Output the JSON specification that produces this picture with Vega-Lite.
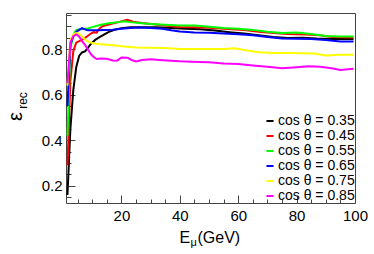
{
  "$schema": "https://vega.github.io/schema/vega-lite/v6.json",
  "width": 289,
  "height": 190,
  "autosize": {"type": "none"},
  "padding": {"left": 66, "top": 13, "right": 19, "bottom": 51},
  "background": "white",
  "config": {
    "font": "Liberation Sans",
    "view": {"stroke": "#444", "strokeWidth": 1}
  },
  "datasets": {
    "curves": [
      {"c":"cos θ = 0.35","E":1.5,"v":0.16},{"c":"cos θ = 0.35","E":2.5,"v":0.45},{"c":"cos θ = 0.35","E":3.5,"v":0.62},{"c":"cos θ = 0.35","E":4.5,"v":0.72},{"c":"cos θ = 0.35","E":5.5,"v":0.77},{"c":"cos θ = 0.35","E":6.5,"v":0.785},{"c":"cos θ = 0.35","E":7.5,"v":0.79},{"c":"cos θ = 0.35","E":8.5,"v":0.805},{"c":"cos θ = 0.35","E":9.5,"v":0.822},{"c":"cos θ = 0.35","E":11,"v":0.84},{"c":"cos θ = 0.35","E":12.5,"v":0.852},{"c":"cos θ = 0.35","E":14,"v":0.863},{"c":"cos θ = 0.35","E":16,"v":0.877},{"c":"cos θ = 0.35","E":18,"v":0.886},{"c":"cos θ = 0.35","E":20,"v":0.891},{"c":"cos θ = 0.35","E":23,"v":0.895},{"c":"cos θ = 0.35","E":27,"v":0.896},{"c":"cos θ = 0.35","E":32,"v":0.895},{"c":"cos θ = 0.35","E":37,"v":0.892},{"c":"cos θ = 0.35","E":42,"v":0.889},{"c":"cos θ = 0.35","E":47,"v":0.887},{"c":"cos θ = 0.35","E":52,"v":0.881},{"c":"cos θ = 0.35","E":57,"v":0.874},{"c":"cos θ = 0.35","E":62,"v":0.868},{"c":"cos θ = 0.35","E":67,"v":0.86},{"c":"cos θ = 0.35","E":72,"v":0.853},{"c":"cos θ = 0.35","E":77,"v":0.848},{"c":"cos θ = 0.35","E":82,"v":0.85},{"c":"cos θ = 0.35","E":87,"v":0.846},{"c":"cos θ = 0.35","E":92,"v":0.844},{"c":"cos θ = 0.35","E":99.5,"v":0.844},
      {"c":"cos θ = 0.45","E":1.5,"v":0.29},{"c":"cos θ = 0.45","E":2.5,"v":0.66},{"c":"cos θ = 0.45","E":3.5,"v":0.79},{"c":"cos θ = 0.45","E":4.5,"v":0.828},{"c":"cos θ = 0.45","E":5.5,"v":0.835},{"c":"cos θ = 0.45","E":6.5,"v":0.84},{"c":"cos θ = 0.45","E":8,"v":0.853},{"c":"cos θ = 0.45","E":9.5,"v":0.868},{"c":"cos θ = 0.45","E":10.5,"v":0.874},{"c":"cos θ = 0.45","E":11.5,"v":0.872},{"c":"cos θ = 0.45","E":12.5,"v":0.89},{"c":"cos θ = 0.45","E":13.5,"v":0.9},{"c":"cos θ = 0.45","E":15,"v":0.905},{"c":"cos θ = 0.45","E":17,"v":0.912},{"c":"cos θ = 0.45","E":19,"v":0.918},{"c":"cos θ = 0.45","E":21,"v":0.925},{"c":"cos θ = 0.45","E":22,"v":0.928},{"c":"cos θ = 0.45","E":24,"v":0.92},{"c":"cos θ = 0.45","E":27,"v":0.914},{"c":"cos θ = 0.45","E":31,"v":0.909},{"c":"cos θ = 0.45","E":35,"v":0.903},{"c":"cos θ = 0.45","E":40,"v":0.897},{"c":"cos θ = 0.45","E":45,"v":0.896},{"c":"cos θ = 0.45","E":50,"v":0.893},{"c":"cos θ = 0.45","E":55,"v":0.889},{"c":"cos θ = 0.45","E":62,"v":0.883},{"c":"cos θ = 0.45","E":67,"v":0.876},{"c":"cos θ = 0.45","E":72,"v":0.87},{"c":"cos θ = 0.45","E":77,"v":0.866},{"c":"cos θ = 0.45","E":83,"v":0.864},{"c":"cos θ = 0.45","E":88,"v":0.86},{"c":"cos θ = 0.45","E":92,"v":0.853},{"c":"cos θ = 0.45","E":99.5,"v":0.851},
      {"c":"cos θ = 0.55","E":1.5,"v":0.42},{"c":"cos θ = 0.55","E":2.5,"v":0.8},{"c":"cos θ = 0.55","E":3.5,"v":0.862},{"c":"cos θ = 0.55","E":4.5,"v":0.883},{"c":"cos θ = 0.55","E":5.5,"v":0.886},{"c":"cos θ = 0.55","E":7,"v":0.888},{"c":"cos θ = 0.55","E":8.5,"v":0.89},{"c":"cos θ = 0.55","E":10,"v":0.896},{"c":"cos θ = 0.55","E":12,"v":0.903},{"c":"cos θ = 0.55","E":13.5,"v":0.908},{"c":"cos θ = 0.55","E":15,"v":0.912},{"c":"cos θ = 0.55","E":17,"v":0.915},{"c":"cos θ = 0.55","E":19,"v":0.918},{"c":"cos θ = 0.55","E":21,"v":0.922},{"c":"cos θ = 0.55","E":23,"v":0.918},{"c":"cos θ = 0.55","E":26,"v":0.914},{"c":"cos θ = 0.55","E":30,"v":0.91},{"c":"cos θ = 0.55","E":35,"v":0.906},{"c":"cos θ = 0.55","E":40,"v":0.903},{"c":"cos θ = 0.55","E":45,"v":0.903},{"c":"cos θ = 0.55","E":50,"v":0.898},{"c":"cos θ = 0.55","E":55,"v":0.892},{"c":"cos θ = 0.55","E":60,"v":0.889},{"c":"cos θ = 0.55","E":65,"v":0.884},{"c":"cos θ = 0.55","E":70,"v":0.876},{"c":"cos θ = 0.55","E":75,"v":0.87},{"c":"cos θ = 0.55","E":80,"v":0.873},{"c":"cos θ = 0.55","E":85,"v":0.866},{"c":"cos θ = 0.55","E":90,"v":0.857},{"c":"cos θ = 0.55","E":95,"v":0.855},{"c":"cos θ = 0.55","E":99.5,"v":0.855},
      {"c":"cos θ = 0.65","E":1.5,"v":0.55},{"c":"cos θ = 0.65","E":2.5,"v":0.82},{"c":"cos θ = 0.65","E":3.5,"v":0.855},{"c":"cos θ = 0.65","E":4.5,"v":0.875},{"c":"cos θ = 0.65","E":5.5,"v":0.884},{"c":"cos θ = 0.65","E":6.5,"v":0.892},{"c":"cos θ = 0.65","E":7.5,"v":0.886},{"c":"cos θ = 0.65","E":8.5,"v":0.882},{"c":"cos θ = 0.65","E":10,"v":0.882},{"c":"cos θ = 0.65","E":12,"v":0.882},{"c":"cos θ = 0.65","E":14,"v":0.883},{"c":"cos θ = 0.65","E":17,"v":0.885},{"c":"cos θ = 0.65","E":20,"v":0.889},{"c":"cos θ = 0.65","E":23,"v":0.892},{"c":"cos θ = 0.65","E":26,"v":0.894},{"c":"cos θ = 0.65","E":30,"v":0.892},{"c":"cos θ = 0.65","E":34,"v":0.889},{"c":"cos θ = 0.65","E":37,"v":0.882},{"c":"cos θ = 0.65","E":40,"v":0.877},{"c":"cos θ = 0.65","E":45,"v":0.872},{"c":"cos θ = 0.65","E":50,"v":0.871},{"c":"cos θ = 0.65","E":55,"v":0.868},{"c":"cos θ = 0.65","E":60,"v":0.865},{"c":"cos θ = 0.65","E":65,"v":0.86},{"c":"cos θ = 0.65","E":70,"v":0.853},{"c":"cos θ = 0.65","E":75,"v":0.846},{"c":"cos θ = 0.65","E":80,"v":0.845},{"c":"cos θ = 0.65","E":85,"v":0.844},{"c":"cos θ = 0.65","E":90,"v":0.84},{"c":"cos θ = 0.65","E":95,"v":0.833},{"c":"cos θ = 0.65","E":99.5,"v":0.833},
      {"c":"cos θ = 0.75","E":1.5,"v":0.64},{"c":"cos θ = 0.75","E":2.5,"v":0.84},{"c":"cos θ = 0.75","E":3.5,"v":0.865},{"c":"cos θ = 0.75","E":4.5,"v":0.87},{"c":"cos θ = 0.75","E":5.5,"v":0.867},{"c":"cos θ = 0.75","E":6.5,"v":0.855},{"c":"cos θ = 0.75","E":7.5,"v":0.842},{"c":"cos θ = 0.75","E":8.5,"v":0.833},{"c":"cos θ = 0.75","E":10,"v":0.826},{"c":"cos θ = 0.75","E":12,"v":0.822},{"c":"cos θ = 0.75","E":15,"v":0.819},{"c":"cos θ = 0.75","E":18,"v":0.816},{"c":"cos θ = 0.75","E":21,"v":0.811},{"c":"cos θ = 0.75","E":25,"v":0.807},{"c":"cos θ = 0.75","E":30,"v":0.806},{"c":"cos θ = 0.75","E":35,"v":0.805},{"c":"cos θ = 0.75","E":40,"v":0.8},{"c":"cos θ = 0.75","E":45,"v":0.8},{"c":"cos θ = 0.75","E":50,"v":0.8},{"c":"cos θ = 0.75","E":55,"v":0.8},{"c":"cos θ = 0.75","E":59,"v":0.803},{"c":"cos θ = 0.75","E":63,"v":0.794},{"c":"cos θ = 0.75","E":67,"v":0.786},{"c":"cos θ = 0.75","E":72,"v":0.783},{"c":"cos θ = 0.75","E":77,"v":0.783},{"c":"cos θ = 0.75","E":82,"v":0.782},{"c":"cos θ = 0.75","E":86,"v":0.78},{"c":"cos θ = 0.75","E":90,"v":0.772},{"c":"cos θ = 0.75","E":95,"v":0.775},{"c":"cos θ = 0.75","E":99.5,"v":0.775},
      {"c":"cos θ = 0.85","E":1.5,"v":0.65},{"c":"cos θ = 0.85","E":2.5,"v":0.83},{"c":"cos θ = 0.85","E":3.5,"v":0.856},{"c":"cos θ = 0.85","E":4.5,"v":0.864},{"c":"cos θ = 0.85","E":5.5,"v":0.855},{"c":"cos θ = 0.85","E":6.5,"v":0.835},{"c":"cos θ = 0.85","E":7.5,"v":0.818},{"c":"cos θ = 0.85","E":8.5,"v":0.798},{"c":"cos θ = 0.85","E":9.5,"v":0.778},{"c":"cos θ = 0.85","E":10.5,"v":0.765},{"c":"cos θ = 0.85","E":11.5,"v":0.756},{"c":"cos θ = 0.85","E":13,"v":0.759},{"c":"cos θ = 0.85","E":15,"v":0.757},{"c":"cos θ = 0.85","E":17,"v":0.75},{"c":"cos θ = 0.85","E":18.5,"v":0.749},{"c":"cos θ = 0.85","E":20,"v":0.763},{"c":"cos θ = 0.85","E":22,"v":0.762},{"c":"cos θ = 0.85","E":23.5,"v":0.752},{"c":"cos θ = 0.85","E":25,"v":0.746},{"c":"cos θ = 0.85","E":27,"v":0.752},{"c":"cos θ = 0.85","E":30,"v":0.755},{"c":"cos θ = 0.85","E":33,"v":0.752},{"c":"cos θ = 0.85","E":37,"v":0.749},{"c":"cos θ = 0.85","E":40,"v":0.746},{"c":"cos θ = 0.85","E":44,"v":0.744},{"c":"cos θ = 0.85","E":50,"v":0.742},{"c":"cos θ = 0.85","E":55,"v":0.737},{"c":"cos θ = 0.85","E":60,"v":0.734},{"c":"cos θ = 0.85","E":65,"v":0.728},{"c":"cos θ = 0.85","E":70,"v":0.722},{"c":"cos θ = 0.85","E":75,"v":0.716},{"c":"cos θ = 0.85","E":80,"v":0.72},{"c":"cos θ = 0.85","E":84,"v":0.724},{"c":"cos θ = 0.85","E":88,"v":0.722},{"c":"cos θ = 0.85","E":92,"v":0.716},{"c":"cos θ = 0.85","E":95,"v":0.708},{"c":"cos θ = 0.85","E":99.5,"v":0.714}
    ]
  },
  "data": {"name": "curves"},
  "layer": [
    {
      "mark": {"type": "line", "strokeWidth": 2},
      "encoding": {
        "x": {
          "field": "E", "type": "quantitative",
          "scale": {"domain": [1, 100], "nice": false, "zero": false},
          "axis": {
            "orient": "bottom",
            "values": [5,10,15,20,25,30,35,40,45,50,55,60,65,70,75,80,85,90,95,100],
            "domain": false, "grid": false,
            "tickColor": "#444",
            "tickSize": {"condition": {"test": "datum.value % 20 === 0", "value": -8}, "value": -4},
            "labelExpr": "datum.value % 20 === 0 ? datum.label : ''",
            "labelFontSize": 15, "labelColor": "#000", "labelPadding": 13,
            "labelFlush": false, "labelOverlap": false,
            "title": "E", "titleX": 113, "titleY": 39, "titleAlign": "left",
            "titleBaseline": "alphabetic", "titleFontSize": 16, "titleFontWeight": "normal", "titleColor": "#000"
          }
        },
        "y": {
          "field": "v", "type": "quantitative",
          "scale": {"domain": [0.125, 0.958], "nice": false, "zero": false},
          "axis": {
            "orient": "left",
            "values": [0.15,0.2,0.25,0.3,0.35,0.4,0.45,0.5,0.55,0.6,0.65,0.7,0.75,0.8,0.85,0.9,0.95],
            "domain": false, "grid": false,
            "tickColor": "#444",
            "tickSize": {"condition": {"test": "abs(datum.value*5 - round(datum.value*5)) < 0.000001", "value": -9}, "value": -5},
            "labelExpr": "abs(datum.value*5 - round(datum.value*5)) < 0.000001 ? format(datum.value, '.1f') : ''",
            "labelFontSize": 15, "labelColor": "#000", "labelPadding": 13,
            "labelFlush": false, "labelOverlap": false,
            "title": "ε", "titleX": -45, "titleY": 103, "titleAngle": -90, "titleAlign": "center",
            "titleBaseline": "alphabetic", "titleFontSize": 20, "titleFontWeight": "normal", "titleColor": "#000"
          }
        },
        "color": {
          "field": "c", "type": "nominal",
          "scale": {
            "domain": ["cos θ = 0.35","cos θ = 0.45","cos θ = 0.55","cos θ = 0.65","cos θ = 0.75","cos θ = 0.85"],
            "range": ["#000000","#ff0000","#00ff00","#0000ff","#ffff00","#ff00ff"]
          },
          "legend": {
            "orient": "none", "legendX": 197, "legendY": 102, "title": null,
            "symbolType": "stroke", "symbolSize": 50, "symbolStrokeWidth": 2,
            "labelFontSize": 14, "labelColor": "#000", "labelOffset": 1,
            "rowPadding": 0, "clipHeight": 12.2, "padding": 0
          }
        }
      }
    },
    {
      "mark": {"type": "line", "opacity": 0},
      "encoding": {
        "x": {
          "field": "E", "type": "quantitative",
          "axis": {
            "orient": "bottom", "domain": false, "ticks": false, "labels": false, "grid": false,
            "title": "μ", "titleX": 124, "titleY": 42, "titleAlign": "left",
            "titleBaseline": "alphabetic", "titleFontSize": 11, "titleFontWeight": "normal", "titleColor": "#000"
          }
        },
        "y": {
          "field": "v", "type": "quantitative",
          "axis": {
            "orient": "left", "domain": false, "ticks": false, "labels": false, "grid": false,
            "title": "rec", "titleX": -40, "titleY": 87, "titleAngle": -90, "titleAlign": "center",
            "titleBaseline": "alphabetic", "titleFontSize": 12, "titleFontWeight": "normal", "titleColor": "#000"
          }
        },
        "detail": {"field": "c"}
      }
    },
    {
      "mark": {"type": "line", "opacity": 0},
      "encoding": {
        "x": {
          "field": "E", "type": "quantitative",
          "axis": {
            "orient": "bottom", "domain": false, "ticks": false, "labels": false, "grid": false,
            "title": "(GeV)", "titleX": 131, "titleY": 39, "titleAlign": "left",
            "titleBaseline": "alphabetic", "titleFontSize": 16, "titleFontWeight": "normal", "titleColor": "#000"
          }
        },
        "y": {"field": "v", "type": "quantitative", "axis": null},
        "detail": {"field": "c"}
      }
    }
  ],
  "resolve": {"axis": {"x": "independent", "y": "independent"}}
}
